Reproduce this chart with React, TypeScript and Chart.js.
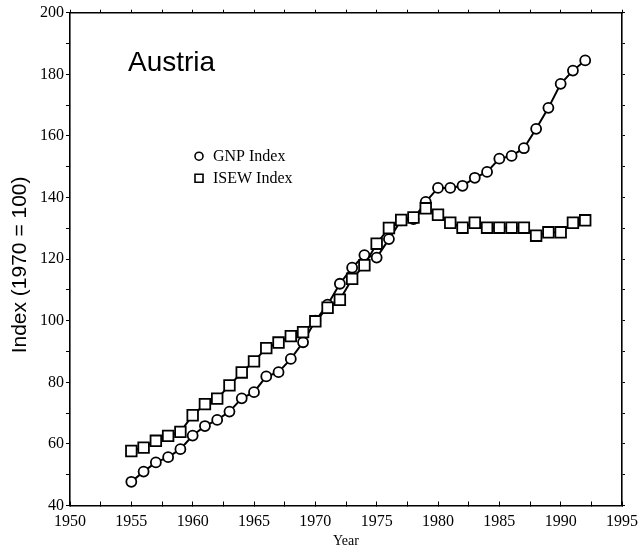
import React, { useEffect, useRef } from "react";
import { Chart, registerables } from "chart.js";

Chart.register(...registerables);

// ---- data ----
const years = [
  1955, 1956, 1957, 1958, 1959, 1960, 1961, 1962, 1963, 1964,
  1965, 1966, 1967, 1968, 1969, 1970, 1971, 1972, 1973, 1974,
  1975, 1976, 1977, 1978, 1979, 1980, 1981, 1982, 1983, 1984,
  1985, 1986, 1987, 1988, 1989, 1990, 1991, 1992,
];
const gnpIndex = [
  47.7, 51.0, 54.0, 55.7, 58.3, 62.7, 65.8, 67.8, 70.5, 74.8,
  76.8, 81.9, 83.3, 87.6, 93.0, 100.0, 105.2, 112.0, 117.2, 121.3,
  120.5, 126.5, 132.6, 133.0, 138.6, 143.1, 143.1, 143.8, 146.4, 148.3,
  152.6, 153.5, 156.0, 162.3, 169.1, 176.9, 181.2, 184.5,
];
const isewIndex = [
  57.7, 58.8, 61.0, 62.6, 63.9, 69.3, 72.9, 74.7, 79.0, 83.2,
  86.8, 91.1, 92.9, 95.0, 96.3, 99.8, 104.2, 106.8, 113.6, 118.0,
  125.0, 130.1, 132.7, 133.5, 136.5, 134.4, 131.8, 130.2, 131.8, 130.2,
  130.2, 130.2, 130.2, 127.6, 128.7, 128.7, 131.8, 132.6,
];
const xTickLabels = [1950, 1955, 1960, 1965, 1970, 1975, 1980, 1985, 1990, 1995];
const yTickLabels = [40, 60, 80, 100, 120, 140, 160, 180, 200];
const seriesNames = ["GNP Index", "ISEW Index"];
const chartTitle = "Austria";
const xTitle = "Year";
const yTitle = "Index (1970 = 100)";

const SERIF = "'Liberation Serif', 'Times New Roman', serif";
const SANS = "'Liberation Sans', Arial, sans-serif";

const overlayPlugin = {
  id: "overlay",
  afterDraw(chart: any) {
    const ctx = chart.ctx as CanvasRenderingContext2D;
    const { left, top } = chart.chartArea;
    ctx.save();
    ctx.fillStyle = "#000";
    ctx.strokeStyle = "#000";
    ctx.font = `28px ${SANS}`;
    ctx.textBaseline = "alphabetic";
    ctx.textAlign = "left";
    ctx.fillText(chartTitle, left + 58, top + 58);

    // legend
    ctx.font = `16px ${SERIF}`;
    ctx.textBaseline = "middle";
    ctx.lineWidth = 1.6;
    const lx = left + 129;
    const ly0 = top + 143.5;
    seriesNames.forEach((name, i) => {
      const y = ly0 + i * 22;
      ctx.fillStyle = "#fff";
      ctx.beginPath();
      if (i === 0) {
        ctx.arc(lx, y, 4, 0, Math.PI * 2);
      } else {
        ctx.rect(lx - 4, y - 4, 8, 8);
      }
      ctx.fill();
      ctx.stroke();
      ctx.fillStyle = "#000";
      ctx.fillText(name, lx + 14, y + 1);
    });
    ctx.restore();
  },
};

const fixSize = (prop: "width" | "height", value: number) => (s: any) => {
  s[prop] = value;
  s.paddingLeft = 0;
  s.paddingRight = 0;
  s.paddingTop = 0;
  s.paddingBottom = 0;
};

export default function App() {
  const ref = useRef<HTMLCanvasElement | null>(null);

  useEffect(() => {
    if (!ref.current) return;
    const gnpData = years.map((x, i) => ({ x, y: gnpIndex[i] }));
    const isewData = years.map((x, i) => ({ x, y: isewIndex[i] }));

    const axisBorder = { display: true, color: "#000", width: 1.6 };

    const chart = new Chart(ref.current, {
      type: "line",
      data: {
        datasets: [
          {
            label: seriesNames[0],
            data: gnpData,
            order: 1,
            borderColor: "#000",
            borderWidth: 2,
            pointStyle: "circle",
            pointRadius: 5,
            pointBorderWidth: 1.8,
            pointBackgroundColor: "#fff",
            pointBorderColor: "#000",
            tension: 0,
          },
          {
            label: seriesNames[1],
            data: isewData,
            order: 0,
            borderColor: "#000",
            borderWidth: 2,
            pointStyle: "rect",
            pointRadius: 7.5,
            pointBorderWidth: 1.8,
            pointBackgroundColor: "#fff",
            pointBorderColor: "#000",
            tension: 0,
          },
        ],
      },
      options: {
        responsive: false,
        animation: false,
        devicePixelRatio: 1,
        layout: { padding: 0 },
        plugins: {
          legend: { display: false },
          tooltip: { enabled: false },
          title: { display: false },
        },
        scales: {
          x: {
            type: "linear",
            position: "bottom",
            min: 1950,
            max: 1995,
            afterFit: fixSize("height", 46.5),
            ticks: {
              stepSize: 2.5,
              autoSkip: false,
              maxRotation: 0,
              color: "#000",
              padding: 11,
              font: { family: SERIF, size: 16 },
              callback: (v: any) => (xTickLabels.includes(Number(v)) ? String(v) : ""),
            },
            grid: { drawOnChartArea: false, drawTicks: true, tickLength: -4, color: "#000", tickWidth: 1 },
            border: axisBorder,
            title: {
              display: true,
              text: xTitle,
              color: "#000",
              font: { family: SERIF, size: 14 },
              padding: { top: 0, bottom: 2 },
            },
          },
          x2: {
            type: "linear",
            position: "top",
            min: 1950,
            max: 1995,
            afterFit: fixSize("height", 12.7),
            ticks: { stepSize: 2.5, display: false },
            grid: { drawOnChartArea: false, drawTicks: true, tickLength: 3, color: "#000", tickWidth: 1 },
            border: axisBorder,
          },
          y: {
            type: "linear",
            position: "left",
            min: 40,
            max: 200,
            afterFit: fixSize("width", 70),
            ticks: {
              stepSize: 10,
              autoSkip: false,
              color: "#000",
              padding: 2,
              font: { family: SERIF, size: 16 },
              callback: (v: any) => (yTickLabels.includes(Number(v)) ? String(v) : ""),
            },
            grid: { drawOnChartArea: false, drawTicks: true, tickLength: 4, color: "#000", tickWidth: 1 },
            border: axisBorder,
            title: {
              display: true,
              text: yTitle + "  ",
              color: "#000",
              font: { family: SANS, size: 21 },
              padding: { top: 8, bottom: 0 },
            },
          },
          y2: {
            type: "linear",
            position: "right",
            min: 40,
            max: 200,
            afterFit: fixSize("width", 19),
            ticks: { stepSize: 10, display: false },
            grid: { drawOnChartArea: false, drawTicks: true, tickLength: 3, color: "#000", tickWidth: 1 },
            border: axisBorder,
          },
        },
      },
      plugins: [overlayPlugin],
    } as any);

    return () => chart.destroy();
  }, []);

  return (
    <div style={{ position: "absolute", left: 0, top: 0, width: 641, height: 552 }}>
      <canvas ref={ref} width={641} height={552} style={{ display: "block", background: "#fff" }} />
    </div>
  );
}
